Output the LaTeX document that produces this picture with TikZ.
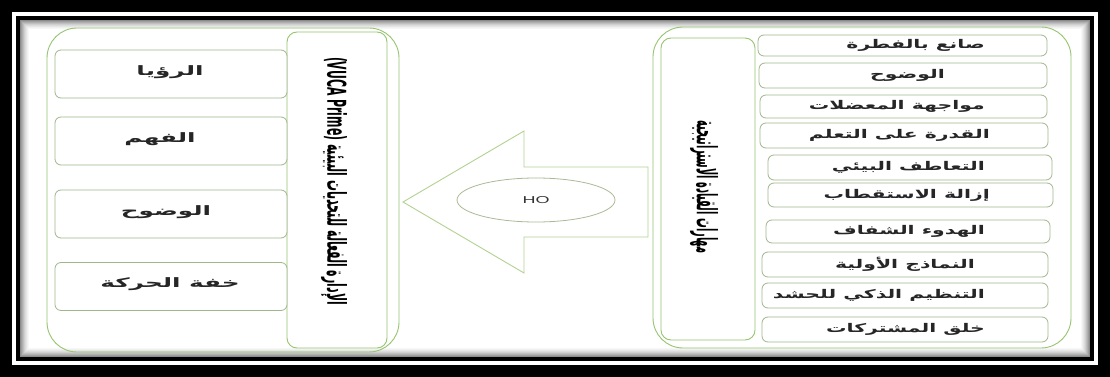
\documentclass[tikz,border=0pt]{standalone}
\usepackage{fontspec}
\usetikzlibrary{shapes.geometric}
\TeXXeTstate=1
\setmainfont{Liberation Sans}
\newfontfamily\arfont[Script=Arabic]{DejaVu Sans}
\definecolor{cgreen}{RGB}{150,196,112}
\definecolor{bgreen}{RGB}{160,182,140}
\definecolor{agreen}{RGB}{178,210,145}
\definecolor{egreen}{RGB}{170,186,150}
\tikzset{
  container/.style={draw=cgreen, line width=0.9pt, rounded corners=30pt},
  titlebox/.style={draw=cgreen, line width=0.9pt, rounded corners=10pt, fill=white},
  itembox/.style={draw=bgreen, line width=0.8pt, rounded corners=6pt, fill=white, inner sep=0pt},
  itemtext/.style={font=\arfont\bfseries\fontsize{12}{14}\selectfont, text=black!85, inner sep=0pt},
  litemtext/.style={font=\arfont\bfseries\fontsize{13}{15}\selectfont, text=black!85, inner sep=0pt},
  titletext/.style={text=black, rotate=-90, inner sep=0pt},
}
\begin{document}
\begin{tikzpicture}[x=1pt,y=-1pt]
\useasboundingbox (0,0) rectangle (1110,377);
% frame
\fill[black] (0,0) rectangle (1110,377);
\fill[white] (12,12) rectangle (1098,365);
\fill[black] (16,16) rectangle (1094,361);
\fill[white] (20,20) rectangle (1090,357);
\foreach \i/\g in {0/45,1/38,2/31,3/25,4/19,5/14,6/10,7/6,8/3}
  \draw[black!\g, line width=1pt] (20.5+\i,20.5+\i) rectangle (1089.5-\i,356.5-\i);

% left container
\draw[container] (47,28) rectangle (399,352);
\node[titlebox, minimum width=100pt, minimum height=316pt] (lt) at (337,190) {};
\node[titletext, font=\arfont\bfseries\fontsize{26}{28}\selectfont] (ltt) at (334,181)
  {\scalebox{0.42}[1]{\beginR الإدارة الفعالة للتحديات البيئية \beginL(VUCA Prime)\endL\endR}};
\foreach \n/\y/\x/\t in {l1/74/170/الرؤيا, l2/141/160/الفهم, l3/214/166/الوضوح, l4/286.5/170/خفة الحركة}{
  \node[itembox, minimum width=232pt, minimum height=48pt] (\n) at (171,\y) {};
  \node[litemtext] at (\x,\y-2) {\scalebox{1.9}[1]{\beginR\t\endR}};
}

% right container
\draw[container] (653,27) rectangle (1071,348);
\node[titlebox, minimum width=94pt, minimum height=302pt] (rt) at (708,189) {};
\node[titletext, font=\arfont\bfseries\fontsize{28}{30}\selectfont] (rtt) at (704,187)
  {\scalebox{0.35}[1]{\beginR مهارات القيادة الاستراتيجية\endR}};
\foreach \n/\x/\w/\y/\h/\e/\t in {
  r1/902.5/289/45.5/21/985/صانع بالفطرة,
  r2/903/288/75.5/25/945/الوضوح,
  r3/903.5/287/106.5/23/985/مواجهة المعضلات,
  r4/904/288/135.5/25/990/القدرة على التعلم,
  r5/910/284/167.5/25/985/التعاطف البيئي,
  r6/910.5/285/195/24/990/إزالة الاستقطاب,
  r7/908/284/231.5/23/985/الهدوء الشفاف,
  r8/905/286/264.5/25/975/النماذج الأولية,
  r9/905/286/295.5/25/985/التنظيم الذكي للحشد,
  r10/905/286/329.5/25/985/خلق المشتركات}{
  \node[itembox, minimum width=\w pt, minimum height=\h pt] (\n) at (\x,\y) {};
  \node[itemtext, anchor=east] at (\e,\y) {\scalebox{1.7}[1]{\beginR\t\endR}};
}

% arrow
\draw[agreen, line width=0.9pt, fill=white] (403,202) -- (524,131) -- (524,167) -- (648,167)
  -- (648,237) -- (524,237) -- (524,273) -- cycle;
\node[ellipse, draw=egreen, line width=0.8pt, minimum width=158pt, minimum height=44pt,
  font=\fontsize{10}{12}\selectfont, text=black!80] (ho) at (536,200) {\scalebox{1.8}[1]{HO}};
\end{tikzpicture}
\end{document}
